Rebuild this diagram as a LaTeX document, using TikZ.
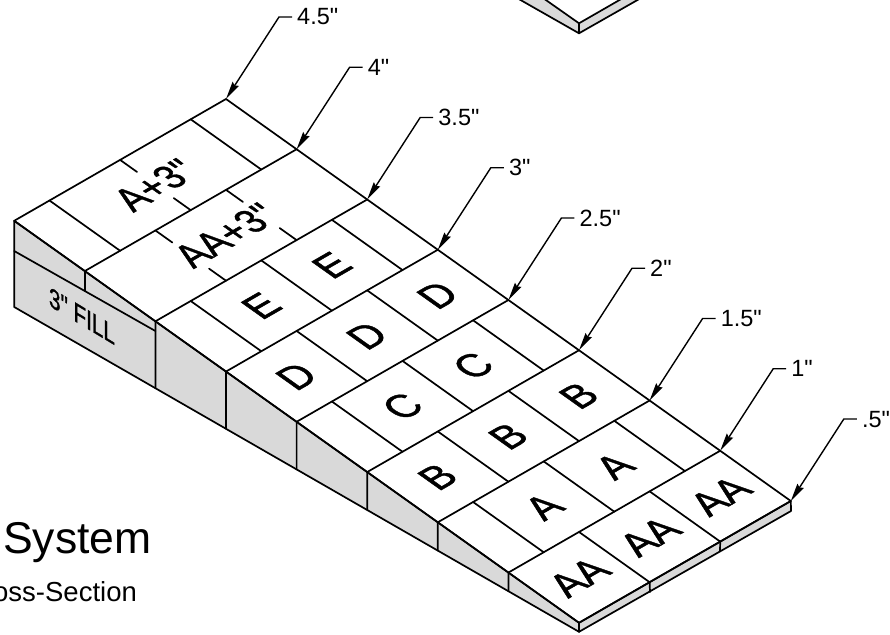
\documentclass[tikz,border=0pt]{standalone}
\usepackage{fontspec}
\newfontfamily\plainface{Liberation Sans}
\newfontfamily\heavyface{Liberation Sans}[FakeBold=1.2]
\usetikzlibrary{calc,arrows.meta}
\definecolor{facegray}{HTML}{D9D9D9}
\tikzset{
  edge/.style={line width=1.7pt,line cap=round,line join=round},
  face/.style={fill=facegray,draw=black,line width=1.7pt,line join=round},
  leader/.style={line width=1.4pt,line join=miter,-{Stealth[length=18pt,width=7.5pt,inset=2pt]}},
  dimlabel/.style={anchor=base west,inner sep=0pt,font=\plainface\fontsize{23.5}{23.5}\selectfont},
  toplabel/.style={inner sep=0pt,transform shape,cm={0.867,0.4985,-0.95,0.676,(0,0)},font=\heavyface\fontsize{36}{36}\selectfont},
  widelabel/.style={inner sep=0pt,transform shape,cm={0.936,0.538,-0.95,0.676,(0,0)},font=\heavyface\fontsize{36}{36}\selectfont},
  sidelabel/.style={inner sep=0pt,transform shape,cm={0.94,-0.565,0,1.25,(0,0)},font=\heavyface\fontsize{22}{22}\selectfont},
}
\begin{document}
\begin{tikzpicture}[x=1pt,y=-1pt]
\useasboundingbox (0,0) rectangle (890,634);
\clip (0,0) rectangle (890,634);
% grid: i along the slope, J half-units across
\foreach \i in {0,...,8}{
  \foreach \J in {0,...,6}{
    \coordinate (g-\i-\J) at ({226+70.6*\i-35.3*\J},{99+50.25*\i+20.3*\J});
  }
  \coordinate (b-\i) at ({14.2+70.6*\i},{307+40.6*\i});
}
\coordinate (f-0) at (g-0-6 |- 0,251);
\coordinate (f-1) at (g-1-6 |- 0,291);
\coordinate (f-2) at (g-2-6 |- 0,331);
\coordinate (r-8) at (791,511);
\coordinate (r-7) at (720,551);
\coordinate (r-6) at (650,592);
% top piece
\coordinate (wa) at (579,23.3);
\coordinate (wb) at (579,33.3);
\coordinate (wc) at (543,-2);
\coordinate (wd) at (517,-2);
\coordinate (we) at (623,-2);
\coordinate (wf) at (641,-2);
\draw[face] (wc) -- (wa) -- (wb) -- (wd);
\draw[face] (we) -- (wa) -- (wb) -- (wf);
% side faces
\draw[face] (g-0-6) -- (g-8-6) -- (b-8) -- (b-0) -- cycle;
\draw[face] (g-8-6) -- (g-8-0) -- (r-8) -- (b-8) -- cycle;
\draw[edge] (f-0) -- (f-2);
\draw[edge] (g-1-6) -- (f-1);
\foreach \i in {2,...,7}{\draw[edge] (g-\i-6) -- (b-\i);}
\draw[edge] (g-8-2) -- (r-7);
\draw[edge] (g-8-4) -- (r-6);
% top face outline and ridges
\draw[edge] (g-0-0) -- (g-8-0);
\draw[edge] (g-0-6) -- (g-8-6);
\foreach \i in {0,...,8}{\draw[edge] (g-\i-0) -- (g-\i-6);}
% full cell lines
\foreach \a/\b/\J in {0/1/1,0/1/5,2/3/1,2/3/3,2/3/5,3/4/2,3/4/4,4/5/1,4/5/3,4/5/5,5/6/2,5/6/4,6/7/1,6/7/3,6/7/5,7/8/2,7/8/4}{
  \draw[edge] (g-\a-\J) -- (g-\b-\J);
}
% interrupted lines
\foreach \a/\b/\J in {0/1/3,1/2/2,1/2/4}{
  \draw[edge] (g-\a-\J) -- ($(g-\a-\J)!0.24!(g-\b-\J)$);
  \draw[edge] (g-\b-\J) -- ($(g-\b-\J)!0.24!(g-\a-\J)$);
}
% cell labels
\foreach \i/\j/\t [count=\n] in {0.5/1.5/{A+3"},1.5/1.5/{AA+3"}}{
  \node[toplabel] (long\n) at ({226+70.6*(\i-\j)},{99+50.25*\i+40.6*\j}) {\t};
}
\foreach \i/\j/\t [count=\n] in {
  2.5/1/E,2.5/2/E,
  3.5/0.5/D,3.5/1.5/D,3.5/2.5/D,
  4.5/1/C,4.5/2/C,
  5.5/0.5/B,5.5/1.5/B,5.5/2.5/B,
  6.5/1/A,6.5/2/A,
  7.5/0.5/AA,7.5/1.5/AA,7.5/2.5/AA}{
  \node[widelabel] (cell\n) at ({226+70.6*(\i-\j)},{99+50.25*\i+40.6*\j}) {\t};
}
\node[sidelabel] (fill) at (82,316) {3"\kern6pt FILL};
% leaders
\foreach \i/\t [count=\n] in {0/{4.5"},1/{4"},2/{3.5"},3/{3"},4/{2.5"},5/{2"},6/{1.5"},7/{1"},8/{.5"}}{
  \coordinate (k-\i) at ($(g-\i-0)+(53,-82)$);
  \coordinate (e-\i) at ($(k-\i)+(13,0)$);
  \draw[leader] (e-\i) -- (k-\i) -- (g-\i-0);
  \node[dimlabel] (lab\n) at ($(e-\i)+(5,8)$) {\t};
}
% title texts
\node[anchor=base west,inner sep=0pt,font=\plainface\fontsize{44.5}{44.5}\selectfont] (title) at (3,553) {System};
\node[anchor=base west,inner sep=0pt,font=\plainface\fontsize{27.5}{27.5}\selectfont] (sub) at (-7,601) {oss-Section};
\end{tikzpicture}
\end{document}
